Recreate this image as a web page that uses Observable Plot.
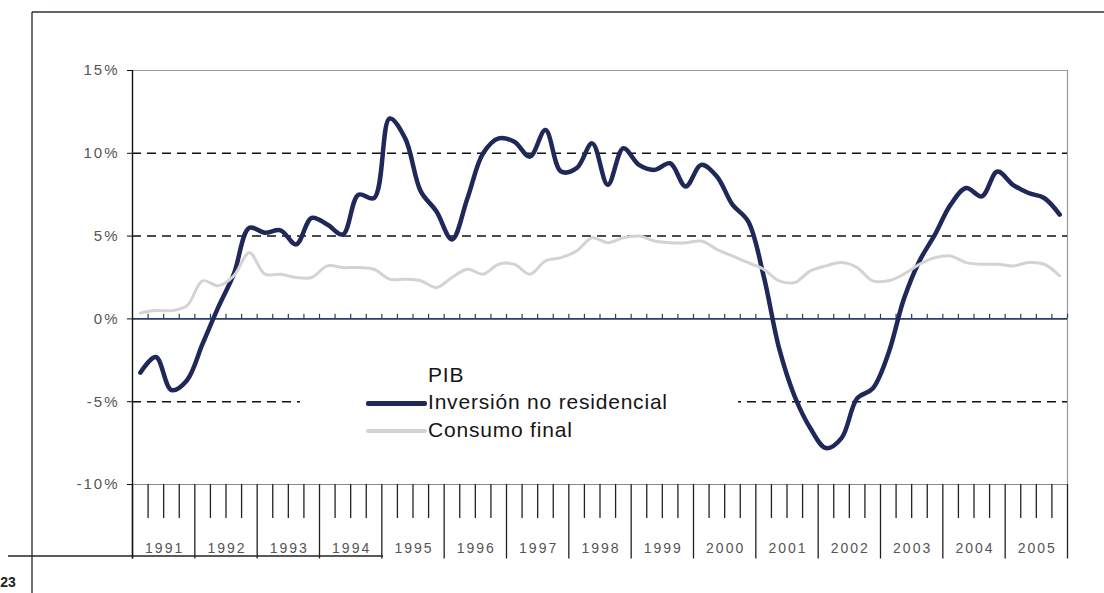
<!DOCTYPE html>
<html><head><meta charset="utf-8">
<script src="https://cdn.jsdelivr.net/npm/d3@7"></script>
<script src="https://cdn.jsdelivr.net/npm/@observablehq/plot@0.6"></script>
<style>
body{margin:0;background:#fff;font-family:Arial,"Liberation Sans",sans-serif}
#wrap{position:relative;width:1104px;height:593px;overflow:hidden}
#legend{position:absolute;left:300px;top:358px;width:438px;height:86px;background:#fff}
#legend .row{position:absolute;left:66px;height:28px;line-height:28px;font-size:21px;letter-spacing:0.8px;color:#151515;white-space:nowrap}
#legend .sw{display:inline-block;width:61px;vertical-align:middle;margin-right:1px}
#chart svg g[aria-label="text"] text{letter-spacing:2px}
#chart svg g[aria-label="y-axis tick label"] text{letter-spacing:2px}
</style></head><body>
<div id="wrap"><div id="chart"></div><div id="legend"></div></div>
<script>
const years = d3.range(1991, 2006);
const yTicks = [-10, -5, 0, 5, 10, 15];
const dashedLevels = [-5, 5, 10];
const legendTitle = "PIB";
const seriesNames = ["Inversión no residencial", "Consumo final"];
const seriesColors = ["#1f2858", "#d3d3d3"];
// quarterly year-on-year growth (%), 1991 T1 .. 2005 T4
const inversion = [
  -3.25, -2.3, -4.3, -3.7,
  -1.5, 0.7, 2.7, 5.5,
  5.2, 5.35, 4.5, 6.1,
  5.7, 5.1, 7.5, 7.3,
  12.1, 10.9, 7.7, 6.5,
  4.8, 7.3, 10.0, 10.9,
  10.7, 9.8, 11.4, 8.9,
  9.1, 10.6, 8.1, 10.3,
  9.3, 9.0, 9.4, 8.0,
  9.3, 8.6, 6.9, 5.9,
  2.6, -1.8, -4.7, -6.6,
  -7.8, -7.2, -4.8, -4.2,
  -2.1, 1.2, 3.5, 5.1,
  6.9, 7.9, 7.4, 8.9,
  8.1, 7.6, 7.3, 6.3
];
const consumo = [
  0.35, 0.5, 0.5, 0.8,
  2.3, 2.0, 2.6, 4.0,
  2.7, 2.7, 2.5, 2.5,
  3.2, 3.1, 3.1, 3.0,
  2.4, 2.4, 2.3, 1.9,
  2.5, 3.0, 2.7, 3.3,
  3.3, 2.7, 3.5, 3.7,
  4.1, 4.9, 4.6, 4.9,
  5.0, 4.7, 4.6, 4.6,
  4.7, 4.2, 3.8, 3.4,
  3.0, 2.3, 2.2, 2.9,
  3.2, 3.4, 3.1, 2.3,
  2.3, 2.7, 3.3, 3.7,
  3.8, 3.4, 3.3, 3.3,
  3.2, 3.4, 3.3, 2.6
];

const t = i => years[0] + (i + 0.5) / 4;
const invRows = inversion.map((v, i) => ({x: t(i), y: v}));
const conRows = consumo.map((v, i) => ({x: t(i), y: v}));
const yearEdges = d3.range(years[0], years[years.length - 1] + 2);
const allQuarterEdges = d3.range(0, years.length * 4 + 1).map(k => years[0] + k / 4);
const innerQuarterEdges = allQuarterEdges.filter((d, k) => k % 4 !== 0);

const chart = Plot.plot({
  width: 1104, height: 593,
  marginLeft: 132, marginRight: 37, marginTop: 70, marginBottom: 109,
  x: {domain: [years[0], years[years.length - 1] + 1], axis: null},
  y: {domain: [-10, 15], axis: null},
  style: {fontFamily: 'Arial, "Liberation Sans", sans-serif', background: "#fff"},
  marks: [
    Plot.ruleY([15], {stroke: "#9a9a9a", strokeWidth: 1.2}),
    Plot.ruleX([years[years.length - 1] + 1], {y1: -10, y2: 15, stroke: "#9a9a9a", strokeWidth: 1.2}),
    Plot.ruleY([-10], {stroke: "#8a8a8a", strokeWidth: 1.2}),
    Plot.ruleY(dashedLevels, {stroke: "#111", strokeWidth: 1.5, strokeDasharray: "9,6"}),
    Plot.ruleY([0], {stroke: "#27406b", strokeWidth: 1.6}),
    Plot.ruleX(allQuarterEdges.slice(1), {y1: 0, y2: 0.28, stroke: "#27406b", strokeWidth: 1.2}),
    Plot.ruleX(yearEdges, {y1: -10, y2: -14.5, stroke: "#222", strokeWidth: 1.3}),
    Plot.ruleX(innerQuarterEdges, {y1: -10, y2: -12.05, stroke: "#222", strokeWidth: 1.3}),
    Plot.ruleX([years[0]], {y1: -14.5, y2: 15, stroke: "#111", strokeWidth: 1.4}),
    Plot.axisY(yTicks, {label: null, tickSize: 5, tickPadding: 8, tickFormat: d => d + "%", fontSize: 15, color: "#555", stroke: "#111"}),
    Plot.text(years, {x: d => d + 0.5, y: -10, dy: 64, dx: 1, text: d => String(d), fontSize: 14, fill: "#555"}),
    Plot.line(invRows, {x: "x", y: "y", stroke: seriesColors[0], strokeWidth: 4.5, curve: "catmull-rom"}),
    Plot.line(conRows, {x: "x", y: "y", stroke: seriesColors[1], strokeWidth: 3, curve: "catmull-rom"})
  ]
});
document.getElementById("chart").appendChild(chart);

// page decorations (scanned-document frame)
const svg = d3.select(chart);
const deco = svg.append("g").attr("fill", "none");
deco.append("line").attr("x1", 32).attr("x2", 1104).attr("y1", 12).attr("y2", 12).attr("stroke", "#2a3340").attr("stroke-width", 1.6);
deco.append("line").attr("x1", 32).attr("x2", 32).attr("y1", 12).attr("y2", 593).attr("stroke", "#222").attr("stroke-width", 1.3);
deco.append("line").attr("x1", 8).attr("x2", 383).attr("y1", 556).attr("y2", 556).attr("stroke", "#222").attr("stroke-width", 1.4);
svg.append("text").attr("x", 8).attr("y", 587).attr("font-size", 14).attr("font-weight", "bold").attr("fill", "#222").text("23");

// legend
const legend = d3.select("#legend");
legend.append("div").attr("class", "row").style("top", "3px").style("left", "128px").text(legendTitle);
seriesNames.forEach((name, i) => {
  const row = legend.append("div").attr("class", "row").style("top", (30 + i * 28) + "px");
  row.append("span").attr("class", "sw").style("height", i === 0 ? "5px" : "4px").style("background", seriesColors[i]).style("border-radius", "2px");
  row.append("span").text(name);
});
</script>
</body></html>
